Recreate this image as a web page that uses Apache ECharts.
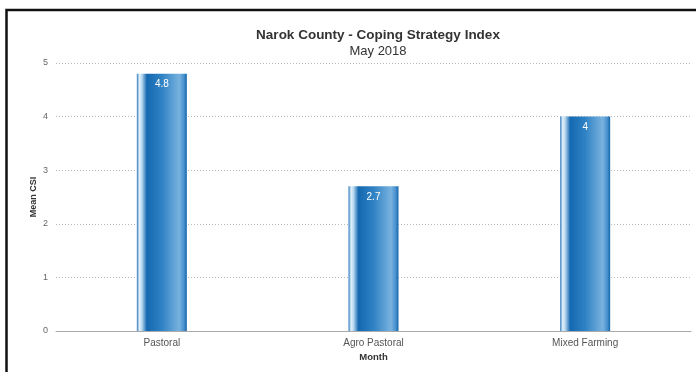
<!DOCTYPE html>
<html><head><meta charset="utf-8">
<script src="https://cdn.jsdelivr.net/npm/echarts@6/dist/echarts.min.js"></script>
<style>html,body{margin:0;padding:0;background:#fff}#c{width:696px;height:372px}</style>
</head><body><div id="c"></div>
<script>
const categories = ['Pastoral', 'Agro Pastoral', 'Mixed Farming'];
const meanCSI = [4.8, 2.7, 4];
const yTicks = [0, 1, 2, 3, 4, 5];

const chart = echarts.init(document.getElementById('c'));
const grad = new echarts.graphic.LinearGradient(0, 0, 1, 0, [
  {offset: 0, color: '#2a78ba'},
  {offset: 0.05, color: '#e4f1fb'},
  {offset: 0.1, color: '#b8d8f0'},
  {offset: 0.2, color: '#1468b0'},
  {offset: 0.5, color: '#2f82c4'},
  {offset: 0.85, color: '#78b2df'},
  {offset: 0.94, color: '#4a92cf'},
  {offset: 1, color: '#1565a8'}
]);
chart.setOption({
  animation: false,
  textStyle: {fontFamily: 'Liberation Sans, Arial, sans-serif'},
  title: {
    text: 'Narok County - Coping Strategy Index',
    subtext: 'May 2018',
    left: 373, top: 23, textAlign: 'center',
    itemGap: 3,
    textStyle: {fontSize: 13.5, fontWeight: 'bold', color: '#333'},
    subtextStyle: {fontSize: 13, color: '#333'}
  },
  graphic: [{
    type: 'polyline', silent: true,
    shape: {points: [[6.5, 372], [6.5, 10], [696, 10]]},
    style: {stroke: '#111', lineWidth: 2.5, fill: null}
  }],
  grid: {left: 56, right: 5, top: 63, bottom: 41},
  xAxis: {
    type: 'category', data: categories,
    name: 'Month', nameLocation: 'middle', nameGap: 21, nameMoveOverlap: false,
    nameTextStyle: {fontSize: 9.5, fontWeight: 'bold', color: '#333'},
    axisLine: {lineStyle: {color: '#aaa'}},
    axisTick: {show: false},
    axisLabel: {fontSize: 10, color: '#555', margin: 7}
  },
  yAxis: {
    type: 'value', min: yTicks[0], max: yTicks[yTicks.length - 1], interval: 1,
    name: 'Mean CSI', nameLocation: 'middle', nameGap: 18, nameMoveOverlap: false,
    nameTextStyle: {fontSize: 9, fontWeight: 'bold', color: '#333'},
    axisLine: {show: false}, axisTick: {show: false},
    axisLabel: {fontSize: 9, color: '#666', margin: 8},
    splitLine: {lineStyle: {color: '#bbb', type: [1, 2]}}
  },
  series: [{
    type: 'bar', data: meanCSI, barWidth: 50,
    itemStyle: {color: grad},
    label: {show: true, position: 'insideTop', distance: 6, color: '#fff', fontSize: 10}
  }]
});
</script></body></html>
